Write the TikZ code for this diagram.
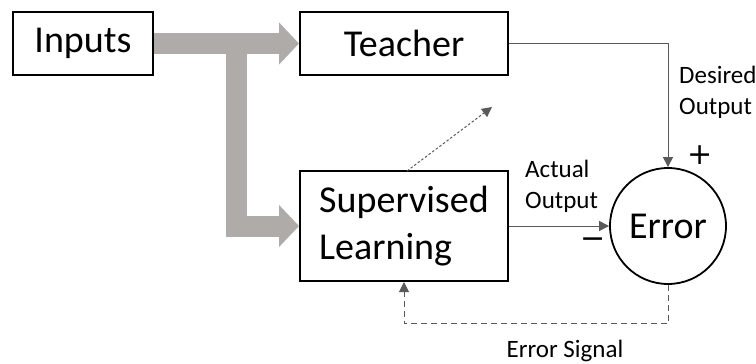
\documentclass[tikz,border=0pt]{standalone}
\usepackage{fontspec}
\setmainfont{Carlito}
\newfontfamily\signfont{DejaVu Sans}
\usetikzlibrary{arrows.meta}
\definecolor{bandgrey}{RGB}{174,171,169}
\definecolor{wire}{RGB}{90,90,90}
\tikzset{
  block/.style={draw=black, line width=2pt, fill=white, inner sep=0pt,
                font=\fontsize{38}{47}\selectfont},
  junction/.style={draw=black, line width=1.8pt, circle, inner sep=0pt,
                minimum size=116pt, font=\fontsize{38}{46}\selectfont},
  label/.style={inner sep=0pt, font=\fontsize{25}{31}\selectfont, align=left},
  sign/.style={inner sep=0pt, font=\signfont\fontsize{30}{30}\selectfont},
  band/.style={draw=bandgrey, line width=21pt,
               -{Triangle[width=41pt,length=20pt]}, bandgrey},
  wirearrow/.style={draw=wire, line width=1pt,
               -{Triangle[width=10pt,length=10pt]}},
}
\begin{document}
\begin{tikzpicture}[x=1pt, y=-1pt]
  \useasboundingbox (0,0) rectangle (756,364);

  % blocks
  \node[block, minimum width=140pt, minimum height=63pt] (inputs) at (83,43.5) {Inputs};
  \node[block, minimum width=208pt, minimum height=63pt] (teacher) at (404,43.5) {Teacher};
  \node[block, minimum width=208pt, minimum height=110pt, align=left] (learner) at (404,226)
       {Supervised\\Learning};
  \node[junction] (err) at (668,226) {Error};

  % wide grey feed from the inputs to both blocks
  \coordinate (split) at (236,33);
  \draw[band] (inputs.east) -- (teacher.west);
  \draw[band] (split) |- (learner.west);

  % signal paths into the error junction
  \draw[wirearrow] (teacher.east) -| (err.north);
  \draw[wirearrow] (learner.east |- err.center) -- (err.west);

  % tentative influence of the learner (dotted)
  \coordinate (hint) at (492,107);
  \draw[draw=wire, line width=1pt, dash pattern=on 2.5pt off 2pt,
        -{Triangle[width=10pt,length=10pt]}] (407,171) -- (hint);

  % error feedback (dashed)
  \draw[draw=wire, line width=1pt, dash pattern=on 6pt off 4pt,
        -{Triangle[width=10pt,length=10pt]}]
        (err.south) -- ++(0,39) -| (learner.south);

  % labels
  \node[label, anchor=north west] (desired) at (679,66) {Desired\\Output};
  \node[label, anchor=north west] (actual) at (525,160) {Actual\\Output};
  \node[label, anchor=base] (errsig) at (565,357) {Error Signal};
  \node[sign] (plus) at (700,155.5) {+};
  \node[sign] (minus) at (593,243) {−};
\end{tikzpicture}
\end{document}
